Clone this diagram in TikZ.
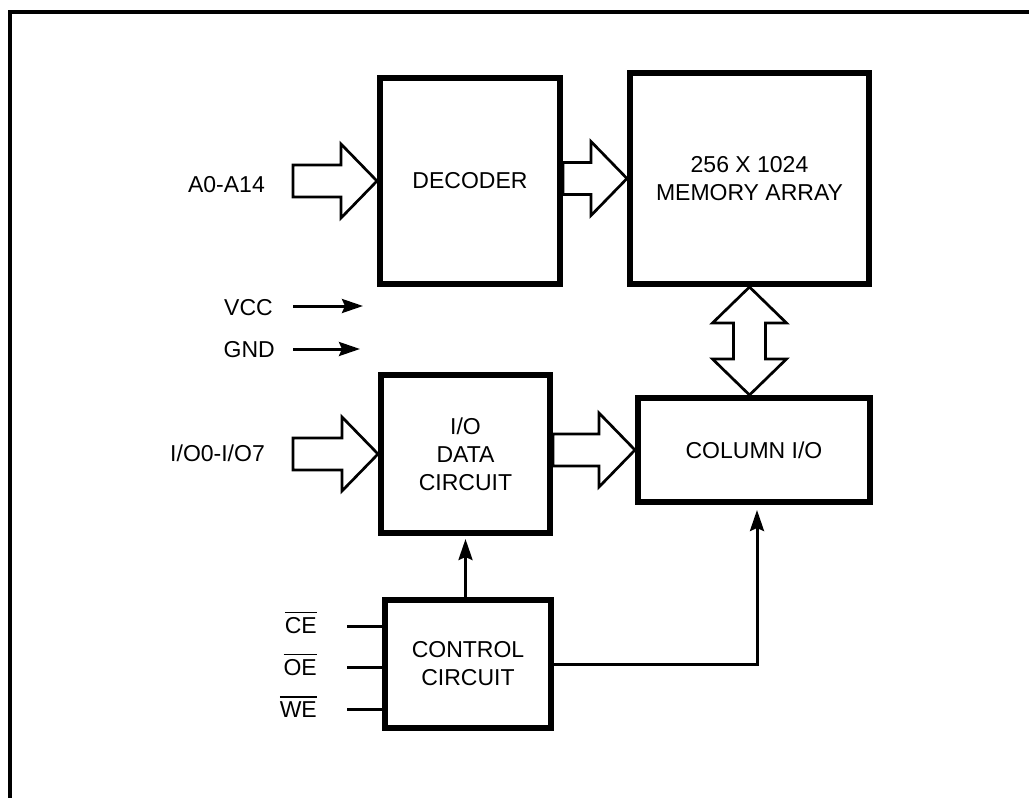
\documentclass[tikz,border=0pt]{standalone}
\usepackage{fontspec}
\setmainfont{Liberation Sans}
\usetikzlibrary{arrows.meta,calc}

% wide bus arrow, tail #1, tip #2 (horizontal)
\newcommand{\busarrow}[2]{%
  \draw[bus] ($(#1 |- #2)+(0,-16)$) -- ($(#2)+(-36,-16)$) -- ($(#2)+(-36,-37)$)
    -- (#2) -- ($(#2)+(-36,37)$) -- ($(#2)+(-36,16)$) -- ($(#1 |- #2)+(0,16)$) -- cycle;}
% active low signal name
\newcommand{\ovl}[1]{\leavevmode\vbox{\hrule height 1.8pt\kern 3.5pt\hbox{#1}}}

\begin{document}
\begin{tikzpicture}[x=1pt,y=-1pt,
  every node/.style={font=\fontsize{23}{28}\selectfont},
  blk/.style={draw,line width=6pt,align=center,inner sep=0pt},
  bus/.style={draw,line width=2.7pt,fill=white,line join=miter},
  sig/.style={line width=3pt,-{Stealth[length=21pt,width=14pt,inset=3pt]}},
  wire/.style={line width=3pt},
  lbl/.style={anchor=base east,inner sep=0pt}]
  \useasboundingbox (0,0) rectangle (1029,798);
  % Frame
  \draw[line width=4pt] (1040,12) -- (10,12) -- (10,810);
  % Blocks
  \node[blk,minimum width=180pt,minimum height=206pt] (dec) at (470,181) {DECODER};
  \node[blk,minimum width=239pt,minimum height=211pt] (mem) at (749.5,178.5) {256 X 1024\\MEMORY ARRAY};
  \node[blk,minimum width=232pt,minimum height=104pt] (col) at (754,450) {COLUMN I/O};
  \node[blk,minimum width=169pt,minimum height=158pt] (dat) at (465.5,454) {I/O\\DATA\\CIRCUIT};
  \node[blk,minimum width=166pt,minimum height=128pt] (ctl) at (468,664) {CONTROL\\CIRCUIT};
  % Labels
  \node[lbl] (addr) at (265,192) {A0-A14};
  \node[lbl] (vcc) at (273,315) {VCC};
  \node[lbl] (gnd) at (275,357) {GND};
  \node[lbl] (iopins) at (265,461) {I/O0-I/O7};
  \node[lbl] (ce) at (317,633) {\ovl{CE}};
  \node[lbl] (oe) at (317,675) {\ovl{OE}};
  \node[lbl] (we) at (317,717) {\ovl{WE}};
  \coordinate (addrbus) at (293,181);
  \coordinate (iobus) at (293,452);
  \coordinate (vccin) at (293,306);
  \coordinate (vccend) at (363,306);
  \coordinate (gndin) at (293,349);
  \coordinate (gndend) at (360,349);
  \coordinate (cein) at (347,626);
  \coordinate (oein) at (347,667);
  \coordinate (wein) at (347,709);
  % Bus arrows
  \busarrow{addrbus}{dec.west}
  \busarrow{dec.east}{mem.west}
  \busarrow{iobus}{dat.west}
  \busarrow{dat.east}{col.west}
  \draw[bus] (mem.south) -- ++(37,36) -- ++(-21,0) -- ($(mem.south |- col.north)+(16,-36)$)
    -- ++(21,0) -- (mem.south |- col.north) -- ++(-37,-36) -- ++(21,0)
    -- ($(mem.south)+(-16,36)$) -- ++(-21,0) -- cycle;
  % Supply
  \draw[sig] (vccin) -- (vccend);
  \draw[sig] (gndin) -- (gndend);
  % Control inputs
  \draw[wire] (cein) -- (cein -| ctl.west);
  \draw[wire] (oein) -- (oein -| ctl.west);
  \draw[wire] (wein) -- (wein -| ctl.west);
  \draw[sig,shorten >=3pt] (dat.south |- ctl.north) -- (dat.south);
  \draw[sig,shorten >=5pt] (ctl.east) -| ($(col.south)+(3,0)$);
\end{tikzpicture}
\end{document}
